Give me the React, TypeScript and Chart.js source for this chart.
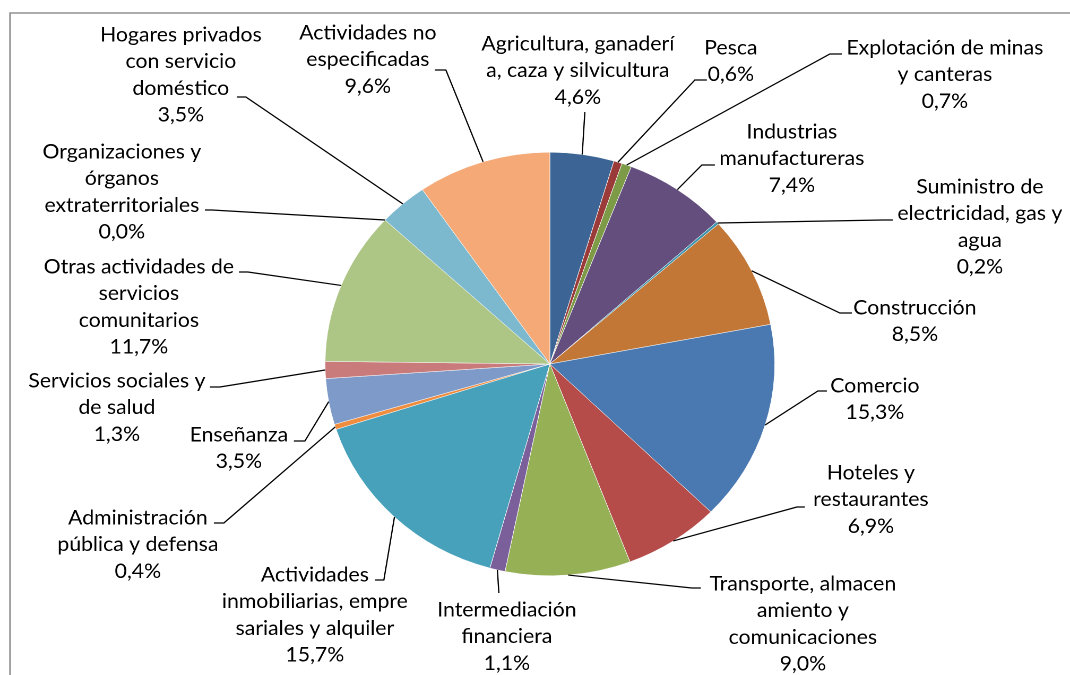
import { useEffect, useRef } from "react";
import { Chart, registerables } from "chart.js";

Chart.register(...registerables);

// ---------- data ----------
const labelLines: string[][] = [
  ["Agricultura, ganaderí", "a, caza y silvicultura"],
  ["Pesca"],
  ["Explotación de minas", "y canteras"],
  ["Industrias", "manufactureras"],
  ["Suministro de", "electricidad, gas y", "agua"],
  ["Construcción"],
  ["Comercio"],
  ["Hoteles y", "restaurantes"],
  ["Transporte, almacen", "amiento y", "comunicaciones"],
  ["Intermediación", "financiera"],
  ["Actividades", "inmobiliarias, empre", "sariales y alquiler"],
  ["Administración", "pública y defensa"],
  ["Enseñanza"],
  ["Servicios sociales y", "de salud"],
  ["Otras actividades de", "servicios", "comunitarios"],
  ["Organizaciones y", "órganos", "extraterritoriales"],
  ["Hogares privados", "con servicio", "doméstico"],
  ["Actividades no", "especificadas"],
];
const categories = labelLines.map((l) => l.join(" "));
const values = [4.6, 0.6, 0.7, 7.4, 0.2, 8.5, 15.3, 6.9, 9.0, 1.1, 15.7, 0.4, 3.5, 1.3, 11.7, 0.0, 3.5, 9.6];

// ---------- styles ----------
const sliceColors = [
  "#3C6595", "#9A3B3A", "#7D9A46", "#634E7E", "#3E93AC", "#C27736",
  "#4A79B1", "#B54C4A", "#95B055", "#7A5F9B", "#47A1BA", "#F08C3E",
  "#7E9AC8", "#C97B7B", "#ADC686", "#9C8AB6", "#7CB9CF", "#F5A977",
];

// label layout, offsets from pie centre: [text centre x, first line y]
const textOffsets: number[][] = [
  [28, -320], [181, -316], [395, -316], [242, -232], [430, -177], [365, -56],
  [325, 22], [321, 109], [253, 220], [-43, 246], [-235, 211], [-412, 154],
  [-311, 71], [-433, 17], [-411, -97], [-428, -212], [-369, -329], [-182, -331],
];
// leader elbow offsets from pie centre: [x, y, horizontal tick]
const leaderOffsets: number[][] = [
  [35, -252, 0], [145, -284, 12], [280, -310, 12], [152, -199, 13], [333, -144, 10], [290, -51, 12],
  [268, 27, 9], [247, 143, 8], [142, 224, 9], [-51, 229, 0], [-166, 216, -9], [-326, 159, -10],
  [-245, 77, -11], [-330, 23, -10], [-302, -92, -9], [-338, -154, -7], [-304, -267, -9], [-104, -294, -11],
];

const CANVAS_W = 1008;
const CANVAS_H = 675;
const STRETCH = 1070 / CANVAS_W;
const LINE_H = 26.7;
const FONT = '20px "Lato"';

const fmt = (v: number) => v.toFixed(1).replace(".", ",") + "%";

const outsideLabels = {
  id: "outsideLabels",
  beforeDraw(chart: any) {
    const ctx = chart.ctx;
    ctx.save();
    ctx.fillStyle = "#ffffff";
    ctx.fillRect(0, 0, chart.width, chart.height);
    ctx.strokeStyle = "#8a8a8a";
    ctx.lineWidth = 1.4;
    ctx.strokeRect(10 / STRETCH, 13, chart.width + 20, chart.height + 20);
    ctx.restore();
  },
  afterDatasetsDraw(chart: any) {
    const ctx = chart.ctx;
    const meta = chart.getDatasetMeta(0);
    ctx.save();
    meta.data.forEach((arc: any, i: number) => {
      const p = arc.getProps(["x", "y", "startAngle", "endAngle", "outerRadius"], true);
      const mid = (p.startAngle + p.endAngle) / 2;
      const ax = p.x + Math.cos(mid) * p.outerRadius;
      const ay = p.y + Math.sin(mid) * p.outerRadius;
      const [ex, ey, tick] = leaderOffsets[i];
      const exC = p.x + ex / STRETCH;
      const eyC = p.y + ey;
      ctx.beginPath();
      ctx.strokeStyle = "#000000";
      ctx.lineWidth = 1.2;
      ctx.moveTo(ax, ay);
      ctx.lineTo(exC, eyC);
      if (tick) ctx.lineTo(exC + tick / STRETCH, eyC);
      ctx.stroke();

      const [tx, ty] = textOffsets[i];
      const lines = [...labelLines[i], fmt(values[i])];
      ctx.font = FONT;
      ctx.fillStyle = "#000000";
      ctx.textAlign = "center";
      ctx.textBaseline = "middle";
      lines.forEach((line, k) => {
        ctx.fillText(line, p.x + tx / STRETCH, p.y + ty + k * LINE_H);
      });
    });
    ctx.restore();
  },
};

export default function App() {
  const ref = useRef<HTMLCanvasElement | null>(null);
  useEffect(() => {
    if (!ref.current) return;
    const chart = new Chart(ref.current, {
      type: "pie",
      data: {
        labels: categories,
        datasets: [
          {
            data: values,
            backgroundColor: sliceColors,
            borderColor: "#ffffff",
            borderWidth: 0.5,
          },
        ],
      },
      options: {
        responsive: false,
        animation: false,
        devicePixelRatio: 2,
        layout: { padding: { left: 306, right: 278, top: 152, bottom: 99 } },
        plugins: { legend: { display: false }, tooltip: { enabled: false } },
      },
      plugins: [outsideLabels],
    });
    return () => chart.destroy();
  }, []);
  return (
    <div style={{ position: "fixed", left: 0, top: 0, width: 1070, height: 675, overflow: "hidden", background: "#fff" }}>
      <canvas
        ref={ref}
        width={CANVAS_W}
        height={CANVAS_H}
        style={{
          width: CANVAS_W + "px",
          height: CANVAS_H + "px",
          transform: `scaleX(${STRETCH})`,
          transformOrigin: "0 0",
          display: "block",
        }}
      />
    </div>
  );
}
